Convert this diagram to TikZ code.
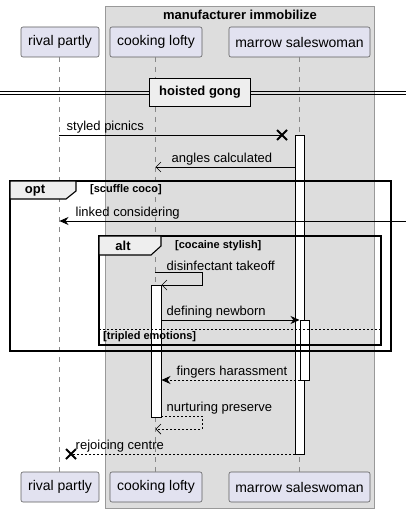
\documentclass[tikz,border=0pt]{standalone}
\usepackage{fontspec}
\setmainfont{Liberation Sans}
\usetikzlibrary{arrows.meta}
\definecolor{partfill}{HTML}{E2E2F0}
\definecolor{partdraw}{HTML}{181818}
\definecolor{boxfill}{HTML}{DDDDDD}
\definecolor{boxdraw}{HTML}{999999}
\definecolor{tabfill}{HTML}{EEEEEE}
\definecolor{lifegray}{HTML}{888888}
\tikzset{
  part/.style={draw=partdraw!70, fill=partfill, rounded corners=2pt, minimum height=30pt, inner xsep=6pt, font=\fontsize{14}{16}\selectfont, line width=0.6pt},
  life/.style={draw=lifegray, dash pattern=on 5pt off 5pt, line width=0.6pt},
  actbar/.style={draw=black, fill=white, line width=0.8pt},
  msg/.style={draw=black, line width=0.7pt},
  dmsg/.style={draw=black, line width=0.7pt, dash pattern=on 2pt off 2pt},
  fillhead/.style={-{Stealth[length=9pt,width=8pt,inset=3pt]}},
  openhead/.style={-{Straight Barb[length=5pt,width=10pt,line width=0.7pt]}},
  mlabel/.style={anchor=south west, inner sep=1.5pt, font=\fontsize{13}{15}\selectfont},
  grp/.style={draw=black, line width=1.6pt},
  tab/.style={draw=black, fill=tabfill, line width=1.1pt},
  glabel/.style={font=\bfseries\fontsize{13}{15}\selectfont, inner sep=0pt},
  gcond/.style={font=\bfseries\fontsize{11}{13}\selectfont, inner sep=0pt, anchor=west},
  xmark/.style={draw=black, line width=1.8pt},
}
\begin{document}
\begin{tikzpicture}[x=1pt,y=-1pt]
\useasboundingbox (0,0) rectangle (406,513);
% enclosing box
\draw[fill=boxfill, draw=boxdraw, line width=0.8pt] (105,6) rectangle (374,508);
\node[glabel] (boxtitle) at (240,15) {manufacturer immobilize};
% participants
\node[part, minimum width=78pt] (rt) at (60,42) {rival partly};
\node[part, minimum width=92pt] (ct) at (156,42) {cooking lofty};
\node[part, minimum width=141pt] (mt) at (299.5,42) {marrow saleswoman};
\node[part, minimum width=78pt] (rb) at (60,487) {rival partly};
\node[part, minimum width=92pt] (cb) at (156,487) {cooking lofty};
\node[part, minimum width=141pt] (mb) at (299.5,487) {marrow saleswoman};
% lifelines
\draw[life] (59,57) -- (59,472);
\draw[life] (155,57) -- (155,472);
\draw[life] (299,57) -- (299,472);
% divider
\draw[line width=0.8pt] (0,91) -- (406,91);
\draw[line width=0.8pt] (0,94.5) -- (406,94.5);
\node[draw=black, line width=1.6pt, fill=tabfill, font=\bfseries\fontsize{13}{15}\selectfont, minimum width=101pt, minimum height=28pt, inner sep=0pt] (div) at (200,92.5) {hoisted gong};
% activation bars
\node[actbar, minimum width=9pt, minimum height=319pt, inner sep=0pt, anchor=north] (am1) at (299.5,135) {};
\node[actbar, minimum width=10pt, minimum height=132pt, inner sep=0pt, anchor=north] (ac1) at (156,285) {};
\node[actbar, minimum width=9pt, minimum height=60pt, inner sep=0pt, anchor=north] (am2) at (304.5,320) {};
% groups
\draw[grp] (10,181) rectangle (391,351);
\draw[tab] (10,181) -- (76,181) -- (76,191) -- (66,199) -- (10,199) -- cycle;
\node[glabel] (optl) at (35,190.5) {opt};
\node[gcond] (optc) at (90,190) {[scuffle coco]};
\draw[grp] (99,236) rectangle (381,345);
\draw[tab] (99,236) -- (161,236) -- (161,246) -- (151,255) -- (99,255) -- cycle;
\node[glabel] (altl) at (123,245.5) {alt};
\node[gcond] (altc) at (175,245.5) {[cocaine stylish]};
\draw[line width=0.6pt, dash pattern=on 2pt off 2pt] (99,329) -- (381,329);
\node[gcond] (altc2) at (103,337) {[tripled emotions]};
% messages
\coordinate (m1a) at (59,135); \coordinate (m1b) at (282,135);
\draw[msg] (m1a) -- (m1b);
\draw[xmark] (277,130) -- (287,140) (277,140) -- (287,130);
\node[mlabel] (l1) at (65,135) {styled picnics};

\coordinate (m2a) at (295,167); \coordinate (m2b) at (155.5,167);
\draw[msg, openhead] (m2a) -- (m2b);
\node[mlabel] (l2) at (170,167) {angles calculated};

\coordinate (m3a) at (406,221); \coordinate (m3b) at (59.5,221);
\draw[msg, fillhead] (m3a) -- (m3b);
\node[mlabel] (l3) at (74,221) {linked considering};

\coordinate (m4a) at (155,272); \coordinate (m4b) at (202,272); \coordinate (m4c) at (202,285); \coordinate (m4d) at (161.5,285);
\draw[msg, openhead] (m4a) -- (m4b) -- (m4c) -- (m4d);
\node[mlabel] (l4) at (165,272) {disinfectant takeoff};

\coordinate (m5a) at (161,320); \coordinate (m5b) at (299.5,320);
\draw[msg, fillhead] (m5a) -- (m5b);
\node[mlabel] (l5) at (165,320) {defining newborn};

\coordinate (m6a) at (300,380); \coordinate (m6b) at (161.5,380);
\draw[dmsg, fillhead] (m6a) -- (m6b);
\node[mlabel] (l6) at (175,380) {fingers harassment};

\coordinate (m7a) at (161,416); \coordinate (m7b) at (202,416); \coordinate (m7c) at (202,429); \coordinate (m7d) at (155.5,429);
\draw[dmsg, openhead] (m7a) -- (m7b) -- (m7c) -- (m7d);
\node[mlabel] (l7) at (165,416) {nurturing preserve};

\coordinate (m8a) at (295,454); \coordinate (m8b) at (71,454);
\draw[dmsg] (m8a) -- (m8b);
\draw[xmark] (66,449) -- (76,459) (66,459) -- (76,449);
\node[mlabel] (l8) at (74,454) {rejoicing centre};
\end{tikzpicture}
\end{document}
